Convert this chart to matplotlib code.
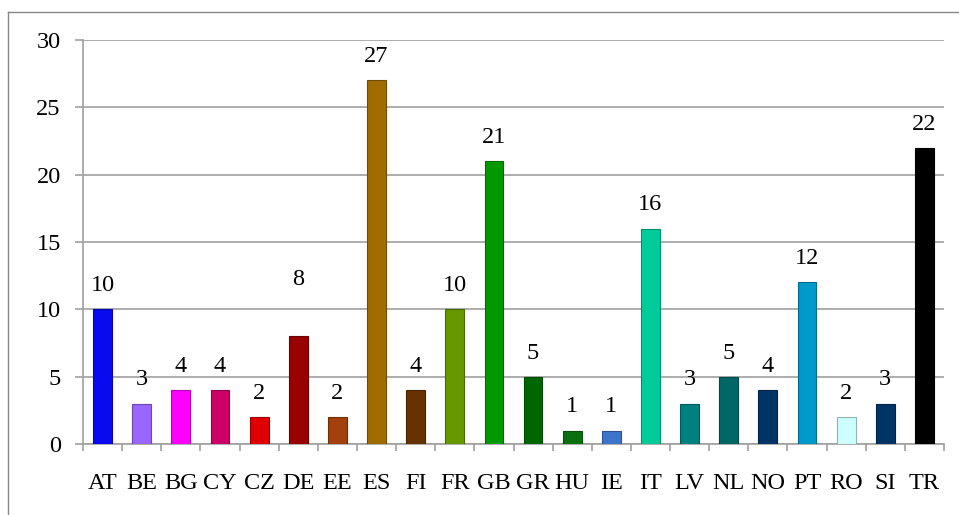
import numpy as np
import matplotlib
matplotlib.use("Agg")
import matplotlib.pyplot as plt
from matplotlib.lines import Line2D
from matplotlib import colors as mcolors

countries = ['AT', 'BE', 'BG', 'CY', 'CZ', 'DE', 'EE', 'ES', 'FI', 'FR', 'GB',
             'GR', 'HU', 'IE', 'IT', 'LV', 'NL', 'NO', 'PT', 'RO', 'SI', 'TR']
counts = [10, 3, 4, 4, 2, 8, 2, 27, 4, 10, 21, 5, 1, 1, 16, 3, 5, 4, 12, 2, 3, 22]
bar_colors = ['#0a0af0', '#9966ff', '#ff00ff', '#cc0066', '#e00000', '#990000',
              '#a3400c', '#a06c00', '#663300', '#669900', '#009900', '#006600',
              '#0a700f', '#3d74cc', '#00cc99', '#008080', '#006666', '#003366',
              '#0099cc', '#ccffff', '#003366', '#000000']
y_ticks = [0, 5, 10, 15, 20, 25, 30]

plt.rcParams['font.family'] = ['Liberation Serif', 'DejaVu Serif']
grey = '#a0a0a0'
fsize = 17.5

fig = plt.figure(figsize=(9.59, 5.15), dpi=100)
ax = fig.add_axes([83 / 959, 1 - 444 / 515, (944 - 83) / 959, (444 - 40) / 515])

x = np.arange(len(countries))
edges = [mcolors.to_rgb(c) for c in bar_colors]
edges = [tuple(v * 0.7 for v in c) for c in edges]
ax.bar(x, counts, width=0.48, color=bar_colors, edgecolor=edges, linewidth=0.8, zorder=3)

# data labels (DE's label sits higher in the original)
for i, v in enumerate(counts):
    lift = 41 if countries[i] == 'DE' else 17
    ax.annotate(str(v), (x[i], v), xytext=(0, lift), textcoords='offset points',
                ha='center', va='center', fontsize=fsize)

ax.set_xlim(-0.5, len(countries) - 0.5)
ax.set_ylim(0, 30)
ax.set_yticks(y_ticks)
ax.yaxis.grid(True, color=grey, linewidth=1.2, zorder=0)
ax.set_axisbelow(True)

ax.set_xticks(x)
ax.set_xticklabels(countries)
ax.set_xticks(np.arange(len(countries) + 1) - 0.5, minor=True)
ax.tick_params(axis='x', which='major', length=0, pad=21, labelsize=fsize)
ax.tick_params(axis='x', which='minor', length=5, width=1.2, color=grey)
ax.tick_params(axis='y', length=6, width=1.2, color=grey, pad=10, labelsize=fsize)

for side in ['top', 'right']:
    ax.spines[side].set_visible(False)
for side in ['left', 'bottom']:
    ax.spines[side].set_color(grey)
    ax.spines[side].set_linewidth(1.2)

# outer chart frame
fig.add_artist(Line2D([8 / 959, 8 / 959], [0, 1 - 12 / 515], color='#888888', linewidth=1))
fig.add_artist(Line2D([8 / 959, 1], [1 - 12 / 515, 1 - 12 / 515], color='#888888', linewidth=1))

fig.savefig('out.png', dpi=100)
